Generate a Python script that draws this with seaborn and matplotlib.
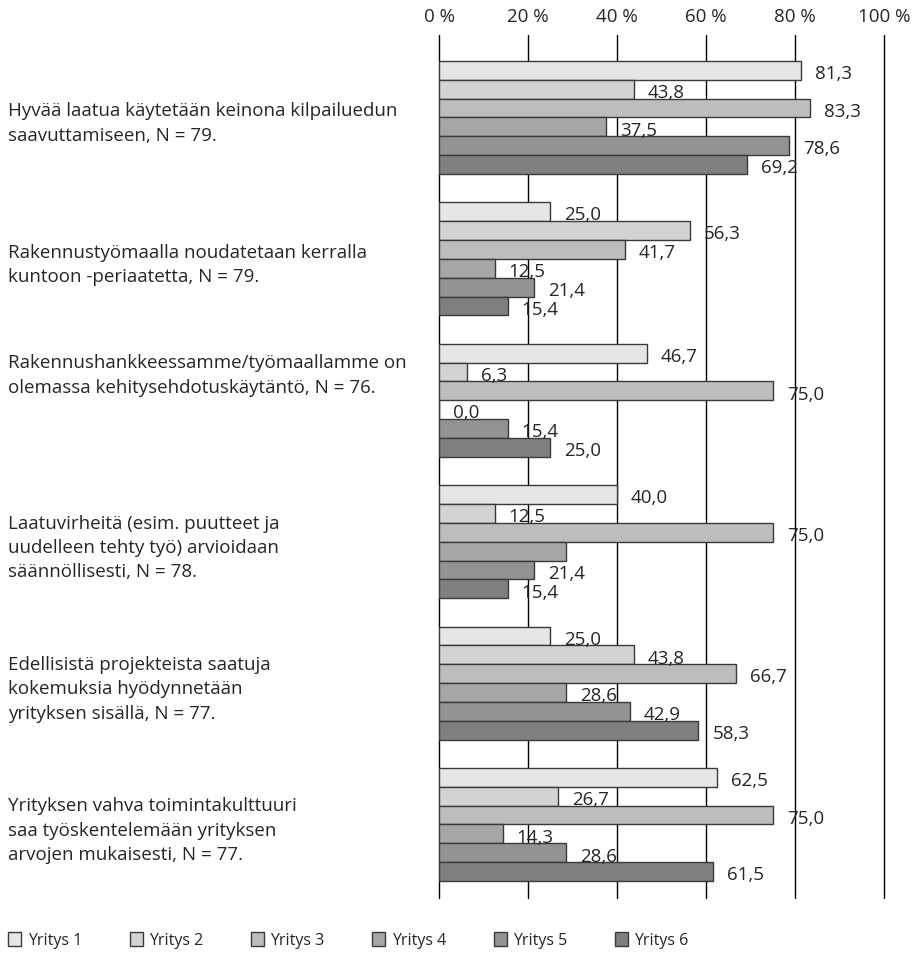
import pandas as pd
import seaborn as sns
import matplotlib.pyplot as plt
from matplotlib.transforms import ScaledTranslation

# Väittämät (kategoriat)
vaittamat = [
    "Hyvää laatua käytetään keinona kilpailuedun\nsaavuttamiseen, N = 79.",
    "Rakennustyömaalla noudatetaan kerralla\nkuntoon -periaatetta, N = 79.",
    "Rakennushankkeessamme/työmaallamme on\nolemassa kehitysehdotuskäytäntö, N = 76.",
    "Laatuvirheitä (esim. puutteet ja\nuudelleen tehty työ) arvioidaan\nsäännöllisesti, N = 78.",
    "Edellisistä projekteista saatuja\nkokemuksia hyödynnetään\nyrityksen sisällä, N = 77.",
    "Yrityksen vahva toimintakulttuuri\nsaa työskentelemään yrityksen\narvojen mukaisesti, N = 77.",
]

yritykset = ["Yritys 1", "Yritys 2", "Yritys 3", "Yritys 4", "Yritys 5", "Yritys 6"]

# Prosenttiosuudet yrityksittäin (väittämien järjestyksessä)
yritys1 = [81.3, 25.0, 46.7, 40.0, 25.0, 62.5]
yritys2 = [43.8, 56.3, 6.3, 12.5, 43.8, 26.7]
yritys3 = [83.3, 41.7, 75.0, 75.0, 66.7, 75.0]
yritys4 = [37.5, 12.5, 0.0, 28.6, 28.6, 14.3]
yritys5 = [78.6, 21.4, 15.4, 21.4, 42.9, 28.6]
yritys6 = [69.2, 15.4, 25.0, 15.4, 58.3, 61.5]

# Yhdestä palkista puuttuu arvo kuvassa
piilotetut = {("Yritys 4", 3)}

arvot = [yritys1, yritys2, yritys3, yritys4, yritys5, yritys6]
varit = ["#e6e6e7", "#d3d3d3", "#bdbdbd", "#a6a6a7", "#939395", "#7f7f81"]

rivit = []
for yr, vals in zip(yritykset, arvot):
    for v, val in zip(vaittamat, vals):
        rivit.append({"Väittämä": v, "Yritys": yr, "Osuus": val})
df = pd.DataFrame(rivit)

sns.set_style("white")
plt.rcParams["font.family"] = ["Open Sans", "DejaVu Sans"]

fig = plt.figure(figsize=(9.15, 9.54), dpi=100)
ax = fig.add_axes([439 / 915, 1 - 899 / 954, 445 / 915, 863 / 954])

sns.barplot(data=df, y="Väittämä", x="Osuus", hue="Yritys", orient="h",
            palette=varit, edgecolor="#3a3a3a", linewidth=1, width=0.8,
            errorbar=None, ax=ax, zorder=3)

# Arvot palkkien perään
for yr, cont, vals in zip(yritykset, ax.containers, arvot):
    tekstit = []
    for i, val in enumerate(vals):
        if (yr, i) in piilotetut:
            tekstit.append("")
        else:
            tekstit.append(f"{val:.1f}".replace(".", ","))
    anns = ax.bar_label(cont, labels=tekstit, padding=10, fontsize=13.5)
    for a in anns:
        a.xyann = (a.xyann[0], -2)

ax.set_xlim(0, 100)
ax.set_ylim(5.52, -0.583)
ax.set_xticks([0, 20, 40, 60, 80, 100])
ax.set_xticklabels(["0 %", "20 %", "40 %", "60 %", "80 %", "100 %"], fontsize=13.5)
ax.xaxis.tick_top()
ax.tick_params(axis="x", length=0, pad=7)
ax.grid(axis="x", color="black", linewidth=1)
for gl in ax.get_xgridlines():
    gl.set_clip_on(False)
ax.set_axisbelow(True)
for s in ax.spines.values():
    s.set_visible(False)
ax.set_xlabel("")
ax.set_ylabel("")

ax.set_yticks(range(len(vaittamat)))
ax.set_yticklabels(vaittamat, fontsize=13.5, ha="left", linespacing=1.45)
ax.tick_params(axis="y", length=0, pad=(439 - 8) * 72 / 100)
# kolmas teksti hieman ylempänä kuten alkuperäisessä
lbl = ax.get_yticklabels()[2]
lbl.set_transform(lbl.get_transform() + ScaledTranslation(0, 0.31, fig.dpi_scale_trans))

handles, labels = ax.get_legend_handles_labels()
ax.get_legend().remove()
fig.legend(handles, labels, loc="lower left", bbox_to_anchor=(0.004, 0.0),
           ncol=6, frameon=False, fontsize=11.5, handlelength=0.8, handleheight=1.0,
           handletextpad=0.4, columnspacing=3.0, borderaxespad=0.0, borderpad=0.3)

plt.savefig("out.png", dpi=100)
